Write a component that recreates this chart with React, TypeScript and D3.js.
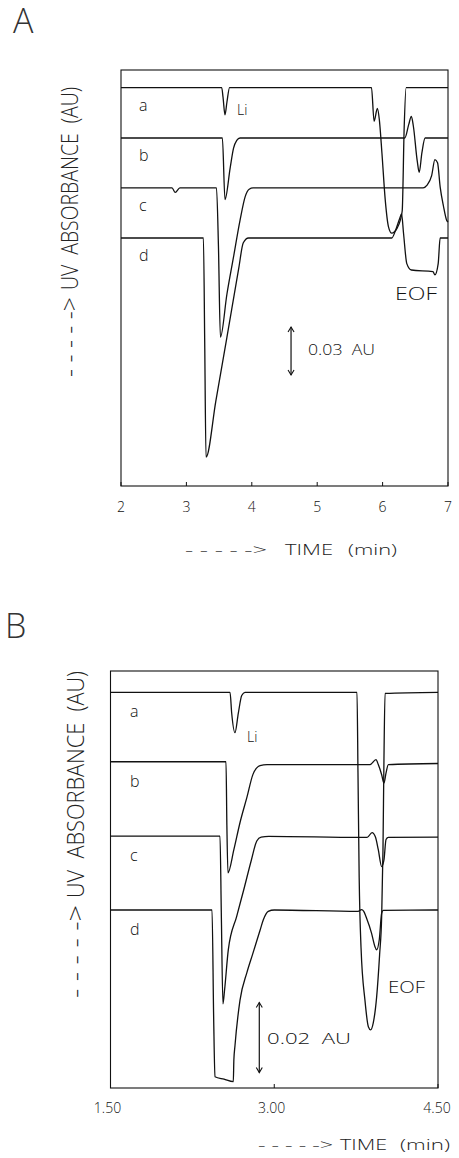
import React from 'react';
import * as d3 from 'd3';

const W = 459;
const H = 1158;

// ---------- Panel A : time (min) vs relative absorbance (mAU) ----------
const ticksA = [2, 3, 4, 5, 6, 7];
const tickLabelsA = ['2', '3', '4', '5', '6', '7'];
const traceNames = ['a', 'b', 'c', 'd'];

const A_a: [number, number][] = [
  [2.0, 249], [3.54, 249], [3.56, 243], [3.59, 232], [3.62, 240], [3.66, 249],
  [5.83, 249], [5.87, 228], [5.92, 236], [5.95, 229], [5.99, 208], [6.04, 179],
  [6.09, 162], [6.14, 158], [6.22, 161], [6.27, 166], [6.30, 172], [6.33, 224],
  [6.36, 249], [7.0, 249],
];
const A_b: [number, number][] = [
  [2.0, 217.5], [3.55, 217.5], [3.59, 179], [3.67, 199], [3.72, 211], [3.77, 216],
  [3.82, 217.5], [6.34, 217.5], [6.40, 226], [6.44, 231], [6.47, 225], [6.53, 203],
  [6.56, 196], [6.60, 208], [6.65, 217.5], [7.0, 217.5],
];
const A_c: [number, number][] = [
  [2.0, 186.3], [2.78, 186.3], [2.83, 183.5], [2.9, 186.3], [3.46, 186.3], [3.49, 150],
  [3.52, 93], [3.62, 120], [3.72, 143], [3.82, 166], [3.9, 181], [3.96, 185.5],
  [4.02, 186.3], [6.62, 186.3], [6.68, 188], [6.75, 194], [6.8, 204], [6.84, 202],
  [6.88, 187], [6.93, 175], [6.98, 166], [7.0, 165],
];
const A_d: [number, number][] = [
  [2.0, 155], [3.26, 155], [3.28, 90], [3.3, 18], [3.45, 53], [3.62, 93], [3.8, 136],
  [3.87, 152], [3.95, 155], [6.14, 155], [6.2, 160], [6.26, 167], [6.29, 170],
  [6.32, 158], [6.37, 139], [6.44, 135], [6.77, 134], [6.8, 132], [6.85, 139],
  [6.88, 155], [7.0, 155],
];
const scaleBarA = { t: 4.6, from: 69.4, to: 99.4, label: '0.03  AU' };

// ---------- Panel B ----------
const ticksB = [1.5, 3.0, 4.5];
const tickLabelsB = ['1.50', '3.00', '4.50'];

const B_a: [number, number][] = [
  [1.5, 112.9], [2.595, 112.9], [2.61, 107], [2.64, 101.4], [2.671, 107], [2.702, 112],
  [2.732, 112.9], [3.758, 112.9], [3.767, 90], [3.778, 60], [3.795, 40], [3.831, 25],
  [3.862, 17.5], [3.883, 16.6], [3.907, 18.6], [3.938, 26], [3.965, 38], [3.984, 49],
  [3.996, 68], [4.005, 94], [4.015, 112.6], [4.5, 112.9],
];
const B_b: [number, number][] = [
  [1.5, 93.1], [2.558, 93.1], [2.566, 75], [2.576, 61.4], [2.63, 68], [2.686, 75.7],
  [2.75, 83], [2.805, 89.5], [2.87, 92], [2.934, 92.3], [3.877, 92.3], [3.932, 93.7],
  [3.953, 92.3], [3.984, 89.4], [4.005, 87], [4.024, 89.9], [4.045, 92.3], [4.5, 92.6],
];
const B_c: [number, number][] = [
  [1.5, 71.9], [2.503, 71.9], [2.515, 50], [2.53, 24], [2.545, 28], [2.579, 39.4],
  [2.656, 49], [2.72, 56.5], [2.79, 65], [2.84, 70.5], [2.88, 71.6], [2.95, 71.8],
  [3.785, 71.5], [3.851, 71.5], [3.896, 72.9], [3.927, 71.6], [3.953, 68], [3.984, 63.2],
  [4.005, 65.1], [4.024, 70.9], [4.045, 71.5], [4.5, 71.6],
];
const B_d: [number, number][] = [
  [1.5, 50.8], [2.43, 50.8], [2.445, 20], [2.457, 3.2], [2.54, 2.5], [2.625, 1.8],
  [2.63, 8], [2.64, 12], [2.686, 25], [2.75, 33], [2.8, 38], [2.87, 45], [2.9, 48],
  [2.945, 50.4], [3.0, 50.8], [3.768, 50.4], [3.799, 50.9], [3.82, 50.4], [3.845, 48.5],
  [3.891, 44.2], [3.922, 40.4], [3.937, 39.4], [3.962, 42.3], [3.984, 49.9],
  [3.999, 50.7], [4.5, 50.8],
];
const scaleBarB = { t: 2.863, from: 4.4, to: 24.4, label: '0.02  AU' };

const FONT = "'Open Sans', 'Liberation Sans', Arial, sans-serif";
const FW = 300;

type Panel = {
  letter: string;
  letterPos: [number, number];
  x: d3.ScaleLinear<number, number>;
  y: d3.ScaleLinear<number, number>;
  traces: [number, number][][];
  ticks: number[];
  tickLabels: string[];
  tickLabelY: number;
  tickLabelX?: number[];
  labelDy: number;
  labelX: number;
  li: [number, number, number];
  eof: [number, number, number, number];
  bar: { t: number; from: number; to: number; label: string };
  barText: [number, number, number, number];
  yLabel: { x: number; mainStart: number; mainEnd: number; dashStart: number; dashEnd: number; fs: number };
  xLabel: { y: number; dash: [number, number]; time: [number, number]; min: [number, number] };
};

const panels: Panel[] = [
  {
    letter: 'A',
    letterPos: [13, 33],
    x: d3.scaleLinear().domain([2, 7]).range([121, 448]),
    y: d3.scaleLinear().domain([0, 260]).range([486, 70]),
    traces: [A_a, A_b, A_c, A_d],
    ticks: ticksA,
    tickLabels: tickLabelsA,
    tickLabelY: 512,
    labelDy: 23,
    labelX: 139,
    li: [237, 115, 14],
    eof: [395, 300, 19, 42],
    bar: scaleBarA,
    barText: [308, 355, 14, 67],
    yLabel: { x: 78, mainStart: 290, mainEnd: 87, dashStart: 377, dashEnd: 297, fs: 23 },
    xLabel: { y: 555, dash: [185, 267], time: [285, 333], min: [348, 397] },
  },
  {
    letter: 'B',
    letterPos: [5, 638],
    x: d3.scaleLinear().domain([1.5, 4.5]).range([110.5, 438]),
    y: d3.scaleLinear().domain([0, 119]).range([1088, 671]),
    traces: [B_a, B_b, B_c, B_d],
    ticks: ticksB,
    tickLabels: tickLabelsB,
    tickLabelY: 1113,
    tickLabelX: [107.5, 271.7, 437],
    labelDy: 25,
    labelX: 130,
    li: [247, 742, 14],
    eof: [388, 993, 17, 37],
    bar: scaleBarB,
    barText: [267, 1044, 15, 84],
    yLabel: { x: 84, mainStart: 898, mainEnd: 671, dashStart: 998, dashEnd: 905, fs: 24 },
    xLabel: { y: 1150, dash: [258, 333], time: [340, 387], min: [400, 450] },
  },
];

function PanelView({ p }: { p: Panel }) {
  const line = d3
    .line<[number, number]>()
    .x((d) => p.x(d[0]))
    .y((d) => p.y(d[1]))
    .curve(d3.curveMonotoneX);
  const [x0, x1] = p.x.range();
  const [y0, y1] = p.y.range();
  const bx = p.x(p.bar.t);
  const by1 = p.y(p.bar.to);
  const by0 = p.y(p.bar.from);
  const yl = p.yLabel;
  return (
    <g>
      <text x={p.letterPos[0]} y={p.letterPos[1]} fontFamily={FONT} fontWeight={300} fontSize={34} fill="#333">
        {p.letter}
      </text>
      {/* frame */}
      <rect x={x0} y={y1} width={x1 - x0} height={y0 - y1} fill="none" stroke="#111" strokeWidth={1.1} />
      {p.ticks.map((t, i) => (
        <g key={i}>
          <line x1={p.x(t)} x2={p.x(t)} y1={y0} y2={y0 - 4} stroke="#111" strokeWidth={1} />
          <text
            x={p.tickLabelX ? p.tickLabelX[i] : p.x(t)}
            y={p.tickLabelY}
            textAnchor="middle"
            fontFamily={FONT}
            fontWeight={FW}
            fontSize={14}
            fill="#111"
          >
            {p.tickLabels[i]}
          </text>
        </g>
      ))}
      {/* traces */}
      {p.traces.map((tr, i) => (
        <path key={i} d={line(tr) || ''} fill="none" stroke="#111" strokeWidth={1.3} strokeLinejoin="round" />
      ))}
      {/* trace labels */}
      {p.traces.map((tr, i) => (
        <text key={'l' + i} x={p.labelX} y={p.y(tr[0][1]) + p.labelDy} fontFamily={FONT} fontWeight={FW} fontSize={16} fill="#111">
          {traceNames[i]}
        </text>
      ))}
      <text x={p.li[0]} y={p.li[1]} fontFamily={FONT} fontWeight={FW} fontSize={p.li[2]} fill="#111">
        Li
      </text>
      <text x={p.eof[0]} y={p.eof[1]} fontFamily={FONT} fontWeight={FW} fontSize={p.eof[2]} textLength={p.eof[3]} lengthAdjust="spacingAndGlyphs" fill="#111">
        EOF
      </text>
      {/* scale bar */}
      <line x1={bx} x2={bx} y1={by1} y2={by0} stroke="#111" strokeWidth={1.2} />
      <path d={`M${bx - 3},${by1 + 5} L${bx},${by1} L${bx + 3},${by1 + 5}`} fill="none" stroke="#111" strokeWidth={1.1} />
      <path d={`M${bx - 3},${by0 - 5} L${bx},${by0} L${bx + 3},${by0 - 5}`} fill="none" stroke="#111" strokeWidth={1.1} />
      <text
        x={p.barText[0]}
        y={p.barText[1]}
        fontFamily={FONT}
        fontWeight={FW}
        fontSize={p.barText[2]}
        textLength={p.barText[3]}
        lengthAdjust="spacingAndGlyphs"
        fill="#111"
        style={{ whiteSpace: 'pre' }}
      >
        {p.bar.label}
      </text>
      {/* y label */}
      <text
        transform={`translate(${yl.x},${yl.mainStart}) rotate(-90)`}
        fontFamily={FONT}
        fontWeight={FW}
        fontSize={yl.fs}
        textLength={yl.mainStart - yl.mainEnd}
        lengthAdjust="spacingAndGlyphs"
        fill="#222"
        style={{ whiteSpace: 'pre' }}
      >
        {'UV  ABSORBANCE  (AU)'}
      </text>
      <text
        transform={`translate(${yl.x},${yl.dashStart}) rotate(-90)`}
        fontFamily={FONT}
        fontWeight={FW}
        fontSize={yl.fs}
        textLength={yl.dashStart - yl.dashEnd}
        lengthAdjust="spacingAndGlyphs"
        fill="#222"
      >
        {'- - - - ->'}
      </text>
      {/* x label */}
      <text x={p.xLabel.dash[0]} y={p.xLabel.y} fontFamily={FONT} fontWeight={FW} fontSize={15} textLength={p.xLabel.dash[1] - p.xLabel.dash[0]} lengthAdjust="spacingAndGlyphs" fill="#222">
        {'- - - - ->'}
      </text>
      <text x={p.xLabel.time[0]} y={p.xLabel.y} fontFamily={FONT} fontWeight={FW} fontSize={15} textLength={p.xLabel.time[1] - p.xLabel.time[0]} lengthAdjust="spacingAndGlyphs" fill="#222">
        TIME
      </text>
      <text x={p.xLabel.min[0]} y={p.xLabel.y} fontFamily={FONT} fontWeight={FW} fontSize={15} textLength={p.xLabel.min[1] - p.xLabel.min[0]} lengthAdjust="spacingAndGlyphs" fill="#222">
        (min)
      </text>
    </g>
  );
}

export default function App() {
  return (
    <svg
      width={W}
      height={H}
      viewBox={`0 0 ${W} ${H}`}
      style={{ position: 'absolute', left: 0, top: 0, background: '#fff' }}
    >
      <rect x={0} y={0} width={W} height={H} fill="#fff" />
      {panels.map((p, i) => (
        <PanelView key={i} p={p} />
      ))}
    </svg>
  );
}
